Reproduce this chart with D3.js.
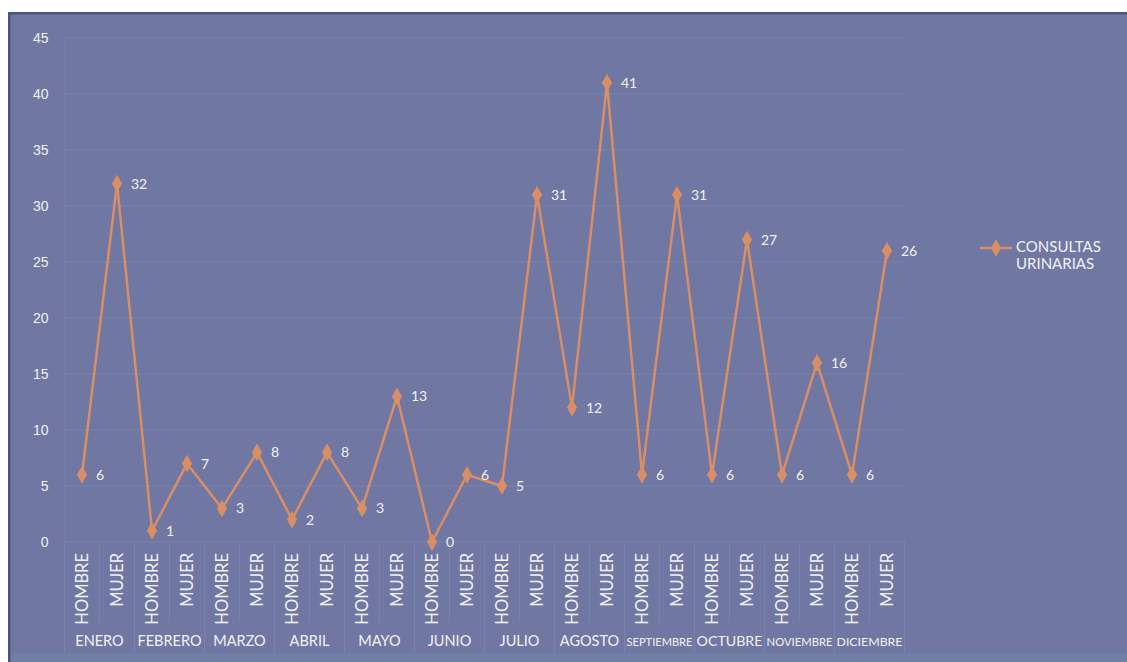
<!DOCTYPE html>
<html>
<head>
<meta charset="utf-8">
<script src="https://cdn.jsdelivr.net/npm/d3@7"></script>
<style>
  body { margin: 0; background: #fff; }
  svg { display: block; font-family: Lato, "Open Sans", sans-serif; }
</style>
</head>
<body>
<div id="chart"></div>
<script>
const months = ['ENERO', 'FEBRERO', 'MARZO', 'ABRIL', 'MAYO', 'JUNIO', 'JULIO', 'AGOSTO', 'SEPTIEMBRE', 'OCTUBRE', 'NOVIEMBRE', 'DICIEMBRE']
const sexes = ['HOMBRE', 'MUJER']
const values = [6, 32, 1, 7, 3, 8, 2, 8, 3, 13, 0, 6, 5, 31, 12, 41, 6, 31, 6, 27, 6, 16, 6, 26]
const yTicks = [0, 5, 10, 15, 20, 25, 30, 35, 40, 45]
const seriesName = ['CONSULTAS', 'URINARIAS']

const width = 1127, height = 662
const bg = '#6f77a2', lineColor = '#d98e66', textColor = '#f2f2f6'
const plot = {left: 64.5, right: 904.5, top: 38, bottom: 542}

// one entry per point, month + sex
const points = []
months.forEach((m, i) => sexes.forEach((s, j) => {
  points.push({key: m + '-' + s, month: m, sex: s, value: values[i * 2 + j]})
}))

const svg = d3.select('#chart').append('svg')
  .attr('width', width)
  .attr('height', height)

// frame
svg.append('rect').attr('x', 8).attr('y', 12).attr('width', width - 8).attr('height', height - 12).attr('fill', bg)
svg.append('rect').attr('x', 8).attr('y', 653).attr('width', width - 8).attr('height', 9).attr('fill', '#7080a5')
svg.append('rect').attr('x', 8).attr('y', 12).attr('width', width - 8).attr('height', 2.5).attr('fill', '#4b557c')
svg.append('rect').attr('x', 8).attr('y', 12).attr('width', 2.5).attr('height', height - 12).attr('fill', '#4b557c')

const x = d3.scaleBand()
  .domain(points.map(d => d.key))
  .range([plot.left, plot.right])

const xMonth = d3.scaleBand()
  .domain(months)
  .range([plot.left, plot.right])

const y = d3.scaleLinear()
  .domain([0, 45])
  .range([plot.bottom, plot.top])

// gridlines
svg.append('g')
  .selectAll('line')
  .data(yTicks)
  .join('line')
    .attr('x1', plot.left)
    .attr('x2', plot.right)
    .attr('y1', d => y(d))
    .attr('y2', d => y(d))
    .attr('stroke', '#7a83ab')
    .attr('stroke-width', 1)

// y axis
const yAxis = svg.append('g')
  .attr('transform', `translate(${plot.left},0)`)
  .call(d3.axisLeft(y).tickValues(yTicks).tickSize(0).tickPadding(16))
yAxis.select('.domain').attr('stroke', '#7a83ab')
yAxis.selectAll('text').attr('fill', textColor).attr('font-size', 14)

// category separators
const catLines = svg.append('g')
catLines.selectAll('line.cat')
  .data(points)
  .join('line')
    .attr('class', 'cat')
    .attr('x1', d => x(d.key))
    .attr('x2', d => x(d.key))
    .attr('y1', plot.bottom)
    .attr('y2', d => d.sex === 'HOMBRE' ? 652 : 622)
    .attr('stroke', '#7a83ab')
catLines.append('line')
  .attr('x1', plot.right).attr('x2', plot.right)
  .attr('y1', plot.bottom).attr('y2', 652)
  .attr('stroke', '#7a83ab')

// sex labels, rotated
svg.append('g')
  .selectAll('text')
  .data(points)
  .join('text')
    .attr('transform', d => `translate(${x(d.key) + x.bandwidth() / 2 + 6},553) rotate(-90)`)
    .attr('text-anchor', 'end')
    .attr('fill', textColor)
    .attr('font-size', 16.5)
    .text(d => d.sex)

// month labels, font shrunk when a name is wider than its band
const monthSize = 14.5
svg.append('g')
  .selectAll('text')
  .data(months)
  .join('text')
    .attr('x', d => xMonth(d) + xMonth.bandwidth() / 2)
    .attr('y', 646)
    .attr('text-anchor', 'middle')
    .attr('fill', textColor)
    .attr('font-size', monthSize)
    .text(d => d)
    .each(function() {
      const max = xMonth.bandwidth() - 4,
            w = this.getComputedTextLength()
      if (w > max) d3.select(this).attr('font-size', monthSize * max / w)
    })

// the line
const cx = d => x(d.key) + x.bandwidth() / 2
const line = d3.line().x(cx).y(d => y(d.value))
svg.append('path')
  .datum(points)
  .attr('d', line)
  .attr('fill', 'none')
  .attr('stroke', lineColor)
  .attr('stroke-width', 2.5)
  .attr('stroke-linejoin', 'round')

const diamond = d3.symbol().type(d3.symbolDiamond).size(90)
svg.append('g')
  .selectAll('path')
  .data(points)
  .join('path')
    .attr('transform', d => `translate(${cx(d)},${y(d.value)})`)
    .attr('d', diamond)
    .attr('fill', lineColor)

// value labels
svg.append('g')
  .selectAll('text')
  .data(points)
  .join('text')
    .attr('x', d => cx(d) + 14)
    .attr('y', d => y(d.value) + 5)
    .attr('fill', textColor)
    .attr('font-size', 14)
    .text(d => d.value)

// legend
const legend = svg.append('g').attr('transform', 'translate(980,248)')
legend.append('line')
  .attr('x1', 0).attr('x2', 32)
  .attr('stroke', lineColor).attr('stroke-width', 2.5)
legend.append('path')
  .attr('transform', 'translate(16,0)')
  .attr('d', diamond)
  .attr('fill', lineColor)
legend.selectAll('text')
  .data(seriesName)
  .join('text')
    .attr('x', 36)
    .attr('y', (d, i) => i * 17 + 4)
    .attr('fill', textColor)
    .attr('font-size', 15)
    .text(d => d)
</script>
</body>
</html>
